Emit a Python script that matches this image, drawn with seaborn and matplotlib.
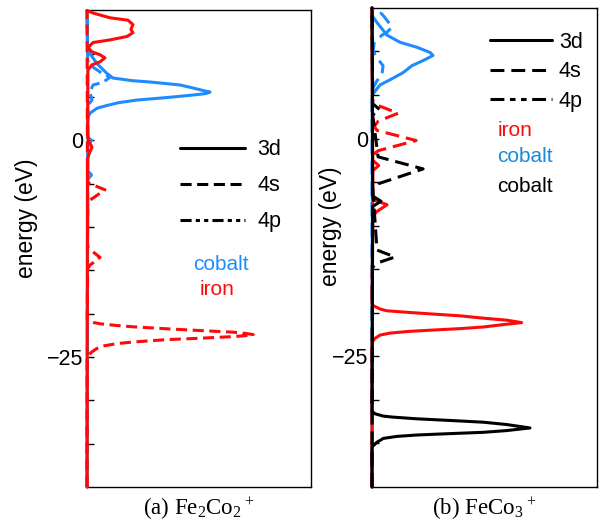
import numpy as np
import pandas as pd
import matplotlib
matplotlib.use("Agg")
import matplotlib.pyplot as plt
import seaborn as sns
from matplotlib.lines import Line2D

# ---------------- data (energy in eV, DOS in % of panel width) ----------------
# Panel (a) Fe2Co2+
fe_a_3d_E = [15.0, 14.7, 14.15, 13.87, 13.37, 12.8, 12.44, 12.0, 11.6, 11.3, 10.7, 10.23, 9.88, 9.53,
             9.07, 8.72, 8.14, 1.0, 0.2, -0.8, -1.5, -2.2, -40.0]
fe_a_3d_D = [0.0, 2.7, 10.3, 18.3, 20.5, 19.6, 20.5, 17.9, 10.3, 2.7, 0.4, 2.2, 5.8, 8.0,
             5.8, 2.2, 0.4, 0.3, 0.4, 2.2, 1.0, 0.2, 0.0]

fe_a_4s_E = [15.0, -4.5, -4.9, -5.7, -6.9, -7.3, -12.0, -12.4, -13.5, -14.4, -14.8,
             -20.73, -21.01, -21.16, -21.36, -21.51, -21.74, -21.94, -22.13, -22.29, -22.41,
             -22.52, -22.64, -22.83, -22.99, -23.26, -23.45, -23.72, -24.03, -24.42, -24.8, -25.0,
             -40.0]
fe_a_4s_D = [0.0, 0.2, 0.4, 8.0, 1.3, 0.3, 0.2, 0.4, 5.8, 1.3, 0.3,
             0.1, 2.8, 5.8, 13.3, 20.7, 35.6, 50.4, 65.3, 71.3, 74.2,
             71.3, 65.3, 50.4, 35.6, 20.7, 13.3, 7.3, 4.3, 2.1, 0.6, 0.1,
             0.0]

co_a_3d_E = [15.0, 10.8, 10.3, 8.9, 7.75, 7.2, 6.9, 6.74, 6.4, 6.05, 5.75, 5.58, 5.4, 5.23, 4.95,
             4.65, 4.35, 4.07, 3.72, 3.14, 2.56, 0.4, 0.0, -0.4, -3.5, -4.0, -4.5, -40.0]
co_a_3d_D = [0.0, 0.2, 0.6, 4.3, 8.8, 11.6, 20.0, 28.1, 41.5, 47.3, 52.0, 54.9, 53.0, 47.0, 35.7,
             22.0, 14.0, 9.5, 4.5, 1.3, 0.3, 0.3, 2.0, 0.3, 0.3, 2.0, 0.3, 0.0]

co_a_4s_E = [15.0, 9.2, 8.7, 7.9, 7.3, 6.7, 6.4, 5.6, 4.65, 4.07, -40.0]
co_a_4s_D = [0.0, 0.3, 1.3, 5.8, 10.3, 7.1, 2.7, 1.3, 2.2, 0.4, 0.0]

# Panel (b) FeCo3+
co_b_3d_E = [15.0, 14.0, 13.14, 11.86, 11.05, 10.47, 9.88, 9.53, 8.95, 8.37, 7.56, 6.74, 6.16,
             5.58, 5.0, -40.0]
co_b_3d_D = [0.0, 0.3, 2.7, 6.7, 12.4, 20.0, 25.8, 27.1, 22.7, 17.8, 13.8, 8.0, 3.6,
             1.8, 0.2, 0.0]

co_b_4s_E = [15.0, 14.4, 13.95, 12.8, 12.2, 11.86, 11.0, 10.0, 9.07, 8.37, 7.33, 6.63, 5.8, 5.0, -40.0]
co_b_4s_D = [6.0, 4.0, 5.5, 8.9, 6.7, 4.4, 1.0, 0.5, 2.7, 4.9, 4.4, 2.2, 0.4, 0.0, 0.0]

fe_b_4s_E = [15.0, 4.4, 3.84, 2.9, 1.98, 1.4, 0.93, -0.23, -1.4, -1.9, -40.0]
fe_b_4s_D = [0.0, 0.2, 2.2, 11.6, 2.7, 1.0, 2.2, 19.6, 2.7, 0.3, 0.0]

fe_b_3d_E = [15.0, -2.5, -3.1, -3.7, -7.0, -7.6, -8.4, -9.0,
             -19.0, -19.19, -19.57, -19.77, -19.97, -20.15, -20.35, -20.62, -20.85, -21.13,
             -21.31, -21.63, -21.82, -21.98, -22.13, -22.33, -22.56, -22.94, -23.4, -40.0]
fe_b_3d_D = [0.0, 0.3, 3.0, 0.3, 0.3, 6.7, 2.0, 0.3,
             0.0, 0.6, 3.6, 6.5, 16.9, 27.3, 39.1, 49.5, 59.9, 66.5,
             59.9, 49.5, 39.1, 27.3, 16.9, 8.0, 3.6, 1.3, 0.0, 0.0]

co2_b_4s_E = [15.0, 4.0, 3.3, 2.7, -2.1, -3.49, -5.2, -5.6, -12.8, -13.6, -14.3, -14.8, -40.0]
co2_b_4s_D = [0.0, 0.3, 3.5, 0.3, 2.7, 22.7, 2.7, 0.3, 2.2, 10.2, 2.2, 0.2, 0.0]

co2_b_3d_E = [15.0, -6.6, -7.2, -7.8, -31.3, -31.59, -31.86, -31.98, -32.17, -32.36, -32.56, -32.83,
              -33.22, -33.52, -33.72, -33.87, -34.03, -34.19, -34.42, -34.88, -35.4, -40.0]
co2_b_3d_D = [0.0, 0.3, 4.0, 0.3, 0.0, 1.3, 5.0, 9.5, 19.9, 34.7, 49.5, 59.9,
              70.2, 59.9, 49.5, 34.7, 19.9, 11.0, 5.0, 2.1, 0.0, 0.0]

orbitals = ["3d", "4s", "4p"]
yticks = [-35, -30, -25, -20, -15, -10, -5, 0, 5, 10]
ytick_labels = ["", "", "\u221225", "", "", "", "", "0", "", ""]
panel_titles = [r"(a) Fe$\mathrm{_2}$Co$\mathrm{_2}$$\mathrm{^+}$",
                r"(b) FeCo$\mathrm{_3}$$\mathrm{^+}$"]

# ---------------- style ----------------
sns.set_theme(style="white")
plt.rcParams["font.family"] = ["Liberation Sans", "DejaVu Sans"]
plt.rcParams["mathtext.fontset"] = "custom"
plt.rcParams["mathtext.rm"] = "Liberation Serif"
plt.rcParams["lines.scale_dashes"] = False
plt.rcParams["text.color"] = "black"
plt.rcParams["axes.labelcolor"] = "black"

RED = "#FF0A0A"
BLUE = "#1E8CFF"
BLACK = "#000000"
LW = 2.2

fig = plt.figure(figsize=(6.01, 5.22), dpi=100)
ax_a = fig.add_axes([0.1448, 0.067, 0.3727, 0.913])
ax_b = fig.add_axes([0.619, 0.067, 0.3744, 0.918])


def draw(ax, E, D, color, ls):
    df = pd.DataFrame({"energy": E, "dos": D})
    sns.lineplot(data=df, x="dos", y="energy", orient="y", estimator=None, sort=True,
                 color=color, linestyle=ls, linewidth=LW, ax=ax, clip_on=False, zorder=3)


ls_a = {"3d": "-", "4s": (0, (8, 4)), "4p": (0, (8, 3, 3, 3, 3, 3))}
ls_b = {"3d": "-", "4s": (0, (10, 5)), "4p": (0, (10, 4, 4, 4, 4, 4))}

# panel (a)
draw(ax_a, co_a_4s_E, co_a_4s_D, BLUE, ls_a["4s"])
draw(ax_a, co_a_3d_E, co_a_3d_D, BLUE, ls_a["3d"])
draw(ax_a, fe_a_4s_E, fe_a_4s_D, RED, ls_a["4s"])
draw(ax_a, fe_a_3d_E, fe_a_3d_D, RED, ls_a["3d"])

# panel (b)
draw(ax_b, co_b_4s_E, co_b_4s_D, BLUE, ls_b["4s"])
draw(ax_b, co_b_3d_E, co_b_3d_D, BLUE, ls_b["3d"])
draw(ax_b, fe_b_4s_E, fe_b_4s_D, RED, ls_b["4s"])
draw(ax_b, fe_b_3d_E, fe_b_3d_D, RED, ls_b["3d"])
draw(ax_b, co2_b_4s_E, co2_b_4s_D, BLACK, ls_b["4s"])
draw(ax_b, co2_b_3d_E, co2_b_3d_D, BLACK, ls_b["3d"])

for ax, title in zip([ax_a, ax_b], panel_titles):
    ax.set_xlim(0, 100)
    ax.set_ylim(-40, 15)
    ax.set_xticks([])
    ax.set_yticks(yticks)
    ax.set_yticklabels(ytick_labels)
    ax.tick_params(axis="y", direction="in", length=5, width=1, labelsize=15.5, pad=3,
                   left=True, colors="black")
    for s in ax.spines.values():
        s.set_color("black")
        s.set_linewidth(1.0)
    ax.set_ylabel("energy (eV)", fontsize=16.5, color="black")
    ax.set_xlabel(title, fontsize=16.5, family="Liberation Serif", color="black", labelpad=6)

ax_a.yaxis.set_label_coords(-0.219, 0.563)
ax_b.yaxis.set_label_coords(-0.133, 0.545)

# legends
h_a = [Line2D([], [], color="black", lw=LW, linestyle=ls_a[o]) for o in orbitals]
leg_a = ax_a.legend(h_a, orbitals, loc="upper left", bbox_to_anchor=(0.415, 0.73), frameon=False,
                    handlelength=3.0, handletextpad=0.6, labelspacing=0.7, fontsize=15.5,
                    borderpad=0, borderaxespad=0, labelcolor="black")
ax_a.text(0.60, 0.466, "cobalt", color=BLUE, ha="center", va="center",
          transform=ax_a.transAxes, fontsize=15)
ax_a.text(0.58, 0.414, "iron", color=RED, ha="center", va="center",
          transform=ax_a.transAxes, fontsize=15)

h_b = [Line2D([], [], color="black", lw=LW, linestyle=ls_b[o]) for o in orbitals]
ax_b.legend(h_b, orbitals, loc="upper left", bbox_to_anchor=(0.524, 0.950), frameon=False,
            handlelength=2.9, handletextpad=0.3, labelspacing=0.4, fontsize=15.5,
            borderpad=0, borderaxespad=0, labelcolor="black")
ax_b.text(0.556, 0.745, "iron", color=RED, ha="left", va="center",
          transform=ax_b.transAxes, fontsize=15)
ax_b.text(0.556, 0.689, "cobalt", color="#1A8AD8", ha="left", va="center",
          transform=ax_b.transAxes, fontsize=15)
ax_b.text(0.556, 0.628, "cobalt", color="black", ha="left", va="center",
          transform=ax_b.transAxes, fontsize=15)

fig.savefig("out.png", dpi=100)
